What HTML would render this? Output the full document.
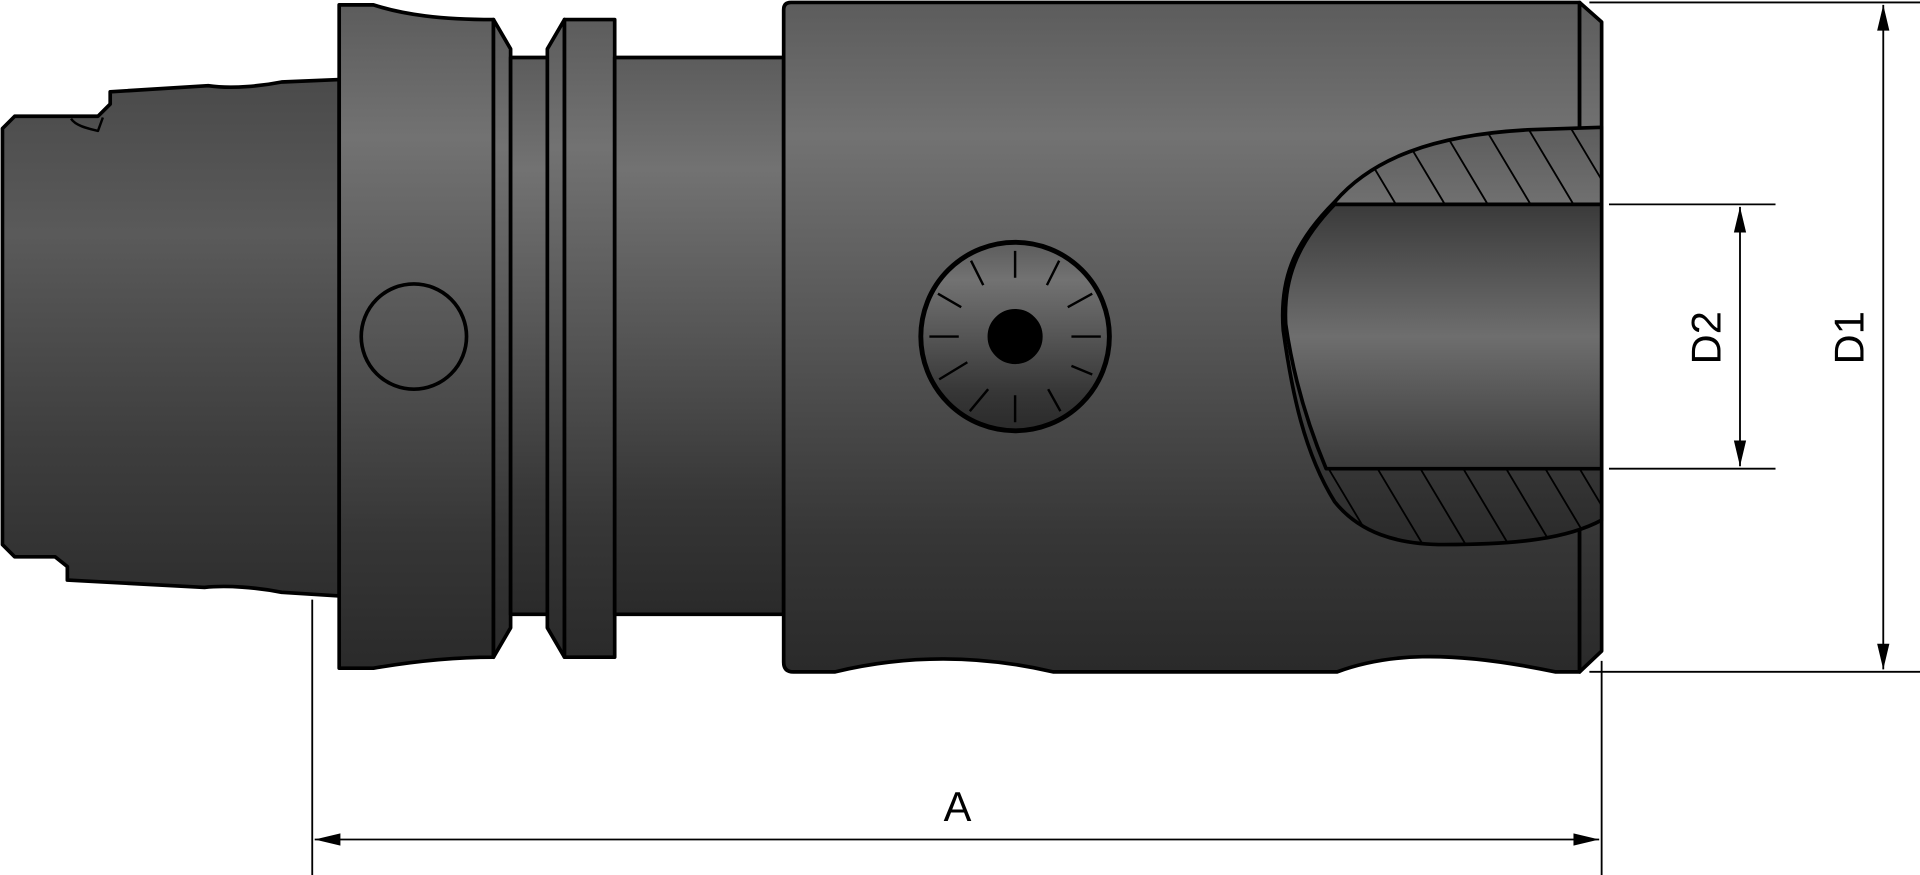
<!DOCTYPE html>
<html><head><meta charset="utf-8"><style>
html,body{margin:0;padding:0;background:#fff;width:1920px;height:875px;overflow:hidden}
svg{display:block}
text{font-family:"Liberation Sans",sans-serif}
</style></head><body>
<svg width="1920" height="875" viewBox="0 0 1568 715" preserveAspectRatio="none" xmlns="http://www.w3.org/2000/svg">
<defs>
<linearGradient id="g" x1="0" y1="0" x2="0" y2="1">
<stop offset="0" stop-color="#5c5c5c"/><stop offset="0.2" stop-color="#727272"/><stop offset="0.5" stop-color="#555"/><stop offset="0.8" stop-color="#363636"/><stop offset="1" stop-color="#2a2a2a"/>
</linearGradient>
<linearGradient id="g2" x1="0" y1="0" x2="0" y2="1">
<stop offset="0" stop-color="#4a4a4a"/><stop offset="0.3" stop-color="#5a5a5a"/><stop offset="0.7" stop-color="#3e3e3e"/><stop offset="1" stop-color="#2e2e2e"/>
</linearGradient>
<linearGradient id="gb" x1="0" y1="0" x2="0" y2="1">
<stop offset="0" stop-color="#3a3a3a"/><stop offset="0.5" stop-color="#6e6e6e"/><stop offset="1" stop-color="#3a3a3a"/>
</linearGradient>
<clipPath id="hc"><path d="M1090,165 C1120,130 1170,110 1250,106 L1308,104 L1308,425 C1280,440 1240,445 1180,445 C1140,445 1110,435 1090,410 C1065,370 1055,320 1048,270 C1045,230 1055,200 1090,165 Z"/></clipPath>
</defs>
<g stroke="#000" stroke-width="3" stroke-linejoin="round">
<path fill="url(#g2)" d="M2,105 L12,95 L80,95 L90,85 L90,75 L170,70 C190,73 215,70 230,67 L277,65 L277,487 L230,484 C210,480 185,478 167,480 L55,474 L55,463 L45,455 L12,455 L2,445 Z"/>
<path fill="none" stroke-width="2" d="M58,97 C62,103 72,105 80,107 L84,96"/>
<path fill="url(#g)" d="M277,4 L305,4 C330,12 360,16 403,16 L403,537 C370,537 340,540 305,546 L277,546 Z"/>
<path fill="url(#g)" d="M403,16 L417,40 L417,513 L403,537 Z"/>
<circle cx="338" cy="275" r="43" fill="none" stroke-width="3"/>
<rect x="417" y="47" width="30" height="455" fill="url(#g)"/>
<path fill="url(#g)" d="M447,40 L461,16 L461,537 L447,513 Z"/>
<rect x="461" y="16" width="41" height="521" fill="url(#g)"/>
<rect x="502" y="47" width="138" height="455" fill="url(#g)"/>
<path fill="url(#g)" d="M640,8 Q640,2 646,2 L1290,2 L1290,549 L1270,549 C1180,530 1130,535 1092,549 L860,549 C800,535 740,535 682,549 L648,549 Q640,549 640,541 Z"/>
<path fill="url(#g)" d="M1290,2 L1308,18 L1308,532 L1290,549 Z"/>
<path fill="url(#g)" d="M1090,165 C1120,130 1170,110 1250,106 L1308,104 L1308,425 C1280,440 1240,445 1180,445 C1140,445 1110,435 1090,410 C1065,370 1055,320 1048,270 C1045,230 1055,200 1090,165 Z"/>
<g clip-path="url(#hc)" stroke-width="1.5">
<path d="M1100,100 L1140,167 M1140,100 L1180,167 M1175,100 L1215,167 M1210,100 L1250,167 M1245,100 L1285,167 M1280,100 L1320,167 M1085,383 L1125,450 M1125,383 L1165,450 M1160,383 L1200,450 M1195,383 L1235,450 M1230,383 L1270,450 M1262,383 L1302,450 M1290,383 L1330,450" fill="none"/>
</g>
<path fill="url(#gb)" d="M1090,167 L1308,167 L1308,383 L1083,383 C1065,340 1055,300 1050,265 C1048,230 1058,200 1090,167 Z"/>
<circle cx="829" cy="275" r="77" fill="url(#g)" stroke-width="4"/>
<circle cx="829" cy="275" r="21" fill="#000"/>
<g stroke-width="2">
<path d="M829,205 V227 M829,323 V345 M759,275 H783 M875,275 H899 M793,213 L803,233 M865,213 L855,233 M766,240 L785,251 M892,240 L872,251 M767,310 L790,296 M892,306 L875,299 M792,336 L807,318 M866,336 L856,318"/>
</g>
</g>
<g stroke="#000" stroke-width="1.5" fill="none">
<line x1="255" y1="490" x2="255" y2="715"/>
<line x1="1308" y1="540" x2="1308" y2="715"/>
<line x1="257" y1="686" x2="1306" y2="686"/>
<line x1="1298" y1="2" x2="1568" y2="2"/>
<line x1="1298" y1="549" x2="1568" y2="549"/>
<line x1="1538" y1="4" x2="1538" y2="547"/>
<line x1="1314" y1="167" x2="1450" y2="167"/>
<line x1="1314" y1="383" x2="1450" y2="383"/>
<line x1="1421" y1="169" x2="1421" y2="381"/>
</g>
<g fill="#000">
<path d="M257,686 L278,681 L278,691 Z"/><path d="M1306,686 L1285,681 L1285,691 Z"/>
<path d="M1538,4 L1533,25 L1543,25 Z"/><path d="M1538,547 L1533,526 L1543,526 Z"/>
<path d="M1421,169 L1416,190 L1426,190 Z"/><path d="M1421,381 L1416,360 L1426,360 Z"/>
</g>
<text x="782" y="671" font-size="34" text-anchor="middle" fill="#000">A</text>
<text transform="translate(1522,276) rotate(-90)" font-size="34" text-anchor="middle" fill="#000">D1</text>
<text transform="translate(1405,276) rotate(-90)" font-size="34" text-anchor="middle" fill="#000">D2</text>
</svg>
</body></html>
